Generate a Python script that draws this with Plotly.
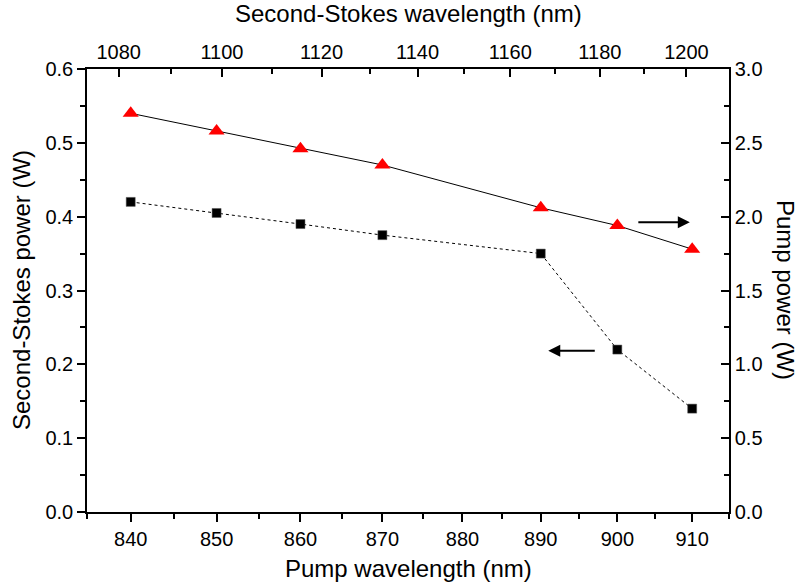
import plotly.graph_objects as go

# ---- data ----
pump_wl = [840, 850, 860, 870, 890, 900, 910]          # nm
stokes_power = [0.42, 0.405, 0.39, 0.375, 0.35, 0.22, 0.14]   # W (left axis)
pump_power = [2.70, 2.58, 2.46, 2.35, 2.06, 1.94, 1.78]       # W (right axis)

bottom_ticks = [840, 850, 860, 870, 880, 890, 900, 910]
bottom_minor = [835, 845, 855, 865, 875, 885, 895, 905, 915]
top_ticks = [1080, 1100, 1120, 1140, 1160, 1180, 1200]
top_minor = [1090, 1110, 1130, 1150, 1170, 1190, 1210]

raman_shift = 1332.5          # cm^-1 (diamond), second Stokes = 2x shift
x_range_nm = [835, 915]

def wn(lam):
    return 1e7 / lam

shift2 = 2 * raman_shift

x_pump = [wn(v) for v in pump_wl]
x_range = [wn(v) for v in x_range_nm]

FONT = "Liberation Sans, Arial, sans-serif"
TICKF = 20
TITLEF = 24

fig = go.Figure()

fig.add_trace(go.Scatter(
    x=x_pump, y=stokes_power, xaxis="x", yaxis="y",
    mode="lines+markers",
    line=dict(color="black", width=1, dash="3px,3px"),
    marker=dict(symbol="square", size=9, color="black",
                line=dict(color="#555555", width=0.5)),
    showlegend=False, hoverinfo="skip"))

fig.add_trace(go.Scatter(
    x=x_pump, y=pump_power, xaxis="x", yaxis="y2",
    mode="lines+markers",
    line=dict(color="black", width=1),
    marker=dict(symbol="triangle-up", size=14, color="red", line=dict(width=0)),
    showlegend=False, hoverinfo="skip"))

# invisible helper trace so the top axis is drawn
fig.add_trace(go.Scatter(
    x=[v - shift2 for v in x_pump], y=stokes_power, xaxis="x2", yaxis="y",
    mode="markers", marker=dict(opacity=0), showlegend=False, hoverinfo="skip"))

axis_common = dict(showline=True, linecolor="black", linewidth=1.5,
                   showgrid=False, zeroline=False,
                   tickfont=dict(family=FONT, size=TICKF, color="black"),
                   tickcolor="black", tickwidth=1.5)

fig.update_layout(
    width=799, height=588,
    margin=dict(l=87, r=70, t=69, b=76),
    paper_bgcolor="white", plot_bgcolor="white",
    font=dict(family=FONT, color="black"),
    xaxis=dict(
        range=x_range, tickmode="array",
        tickvals=[wn(v) for v in bottom_ticks],
        ticktext=[str(v) for v in bottom_ticks],
        ticks="outside", ticklen=8,
        minor=dict(tickmode="array", tickvals=[wn(v) for v in bottom_minor],
                   ticks="outside", ticklen=5, tickcolor="black", tickwidth=1.5),
        **axis_common),
    xaxis2=dict(
        range=[v - shift2 for v in x_range], overlaying="x", side="top",
        tickmode="array",
        tickvals=[wn(v) for v in top_ticks],
        ticktext=[str(v) for v in top_ticks],
        ticks="inside", ticklen=8,
        minor=dict(tickmode="array", tickvals=[wn(v) for v in top_minor],
                   ticks="inside", ticklen=5, tickcolor="black", tickwidth=1.5),
        **axis_common),
    yaxis=dict(
        range=[0, 0.6], tickmode="linear", tick0=0, dtick=0.1, tickformat=".1f",
        ticks="outside", ticklen=8,
        minor=dict(dtick=0.05, ticks="outside", ticklen=5,
                   tickcolor="black", tickwidth=1.5),
        **axis_common),
    yaxis2=dict(
        range=[0, 3.0], overlaying="y", side="right",
        tickmode="linear", tick0=0, dtick=0.5, tickformat=".1f",
        ticks="inside", ticklen=8,
        minor=dict(dtick=0.25, ticks="inside", ticklen=5,
                   tickcolor="black", tickwidth=1.5),
        **axis_common),
)

title_font = dict(family=FONT, size=TITLEF, color="black")
annotations = [
    dict(text="Pump wavelength (nm)", x=0.5, y=-0.128, xref="paper", yref="paper",
         xanchor="center", yanchor="middle", showarrow=False, font=title_font),
    dict(text="Second-Stokes wavelength (nm)", x=0.5, y=1.126, xref="paper", yref="paper",
         xanchor="center", yanchor="middle", showarrow=False, font=title_font),
    dict(text="Second-Stokes power (W)", x=-0.102, y=0.5, xref="paper", yref="paper",
         xanchor="center", yanchor="middle", textangle=-90, showarrow=False, font=title_font),
    dict(text="Pump power (W)", x=1.088, y=0.5, xref="paper", yref="paper",
         xanchor="center", yanchor="middle", textangle=90, showarrow=False, font=title_font),
    # arrows indicating which axis each series belongs to
    dict(x=0.939, y=0.654, xref="paper", yref="paper", text="", showarrow=True,
         ax=-53, ay=0, axref="pixel", ayref="pixel",
         arrowhead=2, arrowsize=1.2, arrowwidth=2, arrowcolor="black"),
    dict(x=0.7185, y=0.364, xref="paper", yref="paper", text="", showarrow=True,
         ax=48, ay=0, axref="pixel", ayref="pixel",
         arrowhead=2, arrowsize=1.2, arrowwidth=2, arrowcolor="black"),
]
fig.update_layout(annotations=annotations)

fig.write_html("out.html", config={"displayModeBar": False},
               post_script="document.body.style.margin='0';document.body.style.padding='0';")
